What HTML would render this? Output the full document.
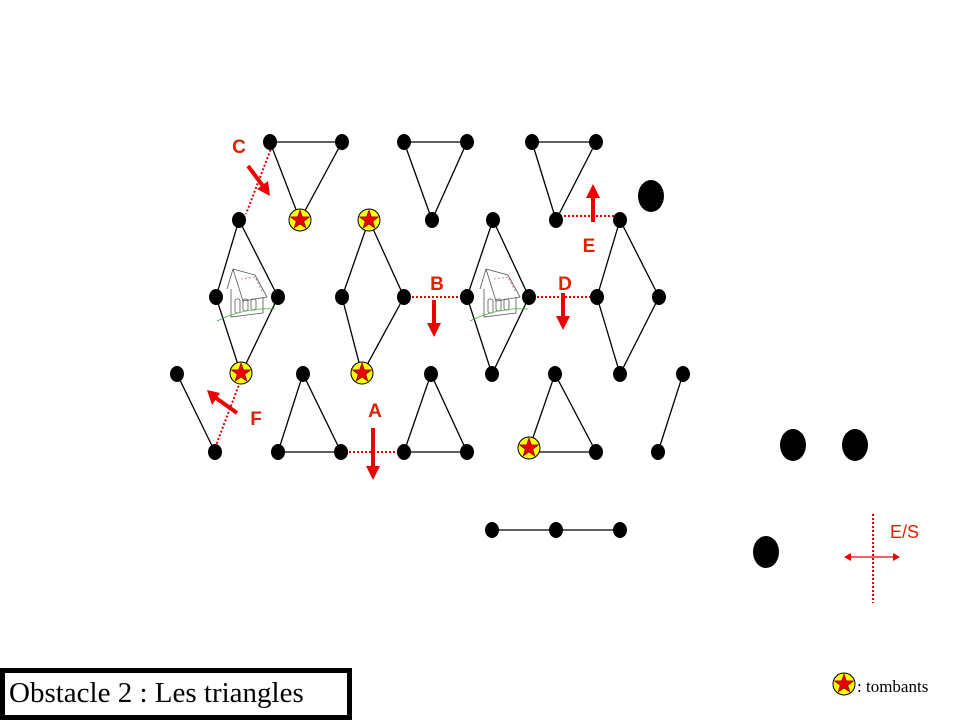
<!DOCTYPE html>
<html><head><meta charset="utf-8"><style>
body{margin:0;background:#fff;width:960px;height:720px;overflow:hidden;position:relative}
svg{position:absolute;left:0;top:0}
.t{position:absolute;left:0;top:668px;width:338px;height:42px;border:5px solid #000;font-family:"Liberation Serif",serif;font-size:29px;line-height:40px;padding-left:4px;box-sizing:content-box}
</style></head><body>
<svg width="960" height="720" viewBox="0 0 960 720">
<defs>
<g id="st"><circle r="11" fill="#ff0" stroke="#000" stroke-width="1"/><polygon points="0,-10 2.4,-3.2 9.5,-3.1 3.8,1.2 5.9,8.1 0,4 -5.9,8.1 -3.8,1.2 -9.5,-3.1 -2.4,-3.2" fill="#e00" stroke="#600" stroke-width="0.6"/></g>
<g id="house" fill="none" stroke="#555" stroke-width="0.8"><path d="M-12,-28 L-18,-8 M-12,-28 L10,-22 L22,0 L-2,4 L-12,-28"/><path d="M-14,-8 L-14,20 L18,16 L18,0"/><rect x="-10" y="2" width="5" height="14" rx="2"/><rect x="-2" y="2" width="5" height="12" rx="2"/><rect x="6" y="2" width="5" height="11" rx="2"/><path d="M-4,-18 L10,-20 L18,-4" stroke="#b66" stroke-dasharray="2 2"/><path d="M-28,24 Q0,10 30,12" stroke="#4a4"/></g>
</defs>
<g stroke="#000" stroke-width="1.3" fill="none">
<polygon points="270,142 342,142 300,220"/>
<polygon points="404,142 467,142 432,220"/>
<polygon points="532,142 596,142 556,220"/>
<polygon points="239,220 216,297 241,374 278,297"/>
<polygon points="369,220 342,297 362,374 404,297"/>
<polygon points="493,220 467,297 492,374 529,297"/>
<polygon points="620,220 597,297 620,374 659,297"/>
<line x1="177" y1="374" x2="215" y2="452"/>
<polygon points="303,374 278,452 341,452"/>
<polygon points="431,374 404,452 467,452"/>
<polygon points="555,374 528,452 596,452"/>
<line x1="683" y1="374" x2="658" y2="452"/>
<line x1="492" y1="530" x2="620" y2="530"/>
</g>
<use href="#house" x="245" y="297"/>
<use href="#house" x="498" y="297"/>
<g stroke="#d00" stroke-width="2" stroke-dasharray="2 2" fill="none">
<line x1="341" y1="452" x2="404" y2="452"/>
<line x1="404" y1="297" x2="467" y2="297"/>
<line x1="529" y1="297" x2="597" y2="297"/>
<line x1="556" y1="216" x2="620" y2="216"/>
<line x1="272" y1="146" x2="246" y2="214"/>
<line x1="240" y1="382" x2="215" y2="448"/>
<line x1="873" y1="514" x2="873" y2="603"/>
</g>
<g fill="#000">
<ellipse cx="270" cy="142" rx="7" ry="8"/><ellipse cx="342" cy="142" rx="7" ry="8"/><ellipse cx="404" cy="142" rx="7" ry="8"/><ellipse cx="467" cy="142" rx="7" ry="8"/><ellipse cx="532" cy="142" rx="7" ry="8"/><ellipse cx="596" cy="142" rx="7" ry="8"/>
<ellipse cx="239" cy="220" rx="7" ry="8"/><ellipse cx="432" cy="220" rx="7" ry="8"/><ellipse cx="493" cy="220" rx="7" ry="8"/><ellipse cx="556" cy="220" rx="7" ry="8"/><ellipse cx="620" cy="220" rx="7" ry="8"/>
<ellipse cx="216" cy="297" rx="7" ry="8"/><ellipse cx="278" cy="297" rx="7" ry="8"/><ellipse cx="342" cy="297" rx="7" ry="8"/><ellipse cx="404" cy="297" rx="7" ry="8"/><ellipse cx="467" cy="297" rx="7" ry="8"/><ellipse cx="529" cy="297" rx="7" ry="8"/><ellipse cx="597" cy="297" rx="7" ry="8"/><ellipse cx="659" cy="297" rx="7" ry="8"/>
<ellipse cx="177" cy="374" rx="7" ry="8"/><ellipse cx="303" cy="374" rx="7" ry="8"/><ellipse cx="431" cy="374" rx="7" ry="8"/><ellipse cx="492" cy="374" rx="7" ry="8"/><ellipse cx="555" cy="374" rx="7" ry="8"/><ellipse cx="620" cy="374" rx="7" ry="8"/><ellipse cx="683" cy="374" rx="7" ry="8"/>
<ellipse cx="215" cy="452" rx="7" ry="8"/><ellipse cx="278" cy="452" rx="7" ry="8"/><ellipse cx="341" cy="452" rx="7" ry="8"/><ellipse cx="404" cy="452" rx="7" ry="8"/><ellipse cx="467" cy="452" rx="7" ry="8"/><ellipse cx="596" cy="452" rx="7" ry="8"/><ellipse cx="658" cy="452" rx="7" ry="8"/>
<ellipse cx="492" cy="530" rx="7" ry="8"/><ellipse cx="556" cy="530" rx="7" ry="8"/><ellipse cx="620" cy="530" rx="7" ry="8"/>
<ellipse cx="651" cy="196" rx="13" ry="16"/><ellipse cx="793" cy="445" rx="13" ry="16"/><ellipse cx="855" cy="445" rx="13" ry="16"/><ellipse cx="766" cy="552" rx="13" ry="16"/>
</g>
<use href="#st" x="300" y="220"/><use href="#st" x="369" y="220"/><use href="#st" x="241" y="373"/><use href="#st" x="362" y="373"/><use href="#st" x="529" y="448"/><use href="#st" x="844" y="684"/>
<g stroke="#e00" stroke-width="4" fill="#e00">
<line x1="373" y1="428" x2="373" y2="468"/><polygon points="366,466 380,466 373,480" stroke="none"/>
<line x1="434" y1="300" x2="434" y2="325"/><polygon points="427,323 441,323 434,337" stroke="none"/>
<line x1="563" y1="293" x2="563" y2="318"/><polygon points="556,316 570,316 563,330" stroke="none"/>
<line x1="593" y1="222" x2="593" y2="196"/><polygon points="586,198 600,198 593,184" stroke="none"/>
<line x1="248" y1="166" x2="263" y2="186"/><polygon points="257,189 268,181 270,196" stroke="none"/>
<line x1="237" y1="413" x2="216" y2="398"/><polygon points="220,393 212,405 207,390" stroke="none"/>
</g>
<g stroke="#e00" stroke-width="1.3" fill="#e00">
<line x1="848" y1="557" x2="896" y2="557"/><polygon points="844,557 851,553 851,561" stroke="none"/><polygon points="900,557 893,553 893,561" stroke="none"/>
</g>
<g font-family="Liberation Sans,sans-serif" font-size="19" font-weight="bold" fill="#e02000" text-anchor="middle">
<text x="375" y="417">A</text><text x="437" y="290">B</text><text x="239" y="153">C</text><text x="565" y="290">D</text><text x="589" y="252">E</text><text x="256" y="425">F</text>
</g>
<text x="890" y="538" font-family="Liberation Sans,sans-serif" font-size="18" fill="#e02000">E/S</text>
<text x="857" y="692" font-family="Liberation Serif,serif" font-size="17" fill="#000">: tombants</text>
</svg>
<div class="t">Obstacle 2 : Les triangles</div>
</body></html>
